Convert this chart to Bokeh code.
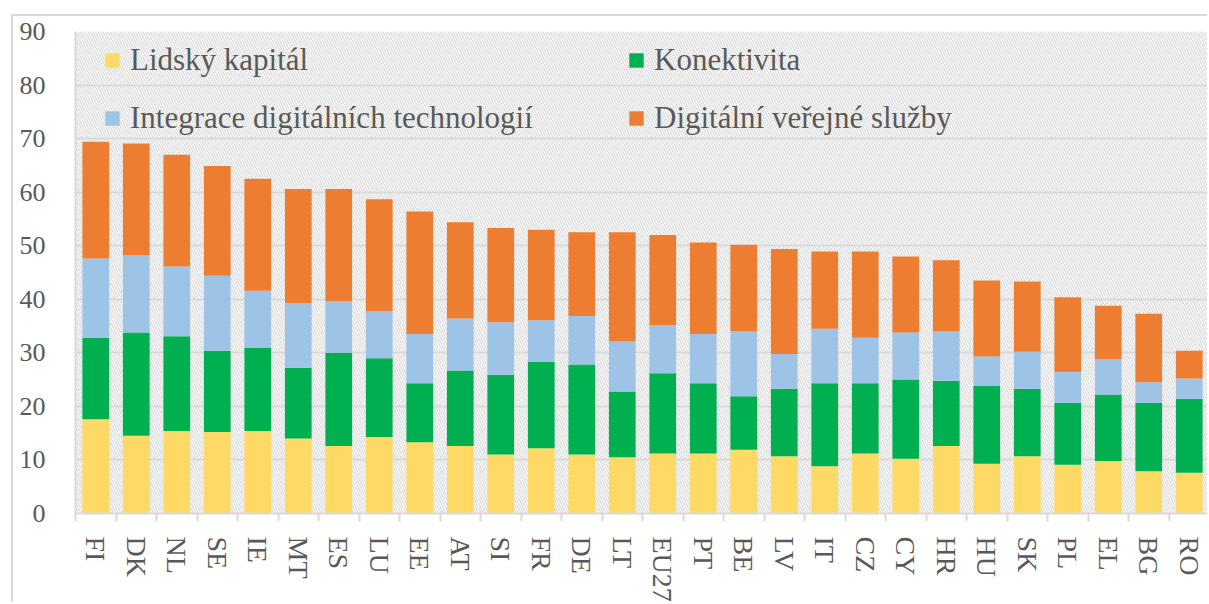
from bokeh.plotting import figure
from bokeh.models import (ColumnDataSource, Range1d, FixedTicker, BoxAnnotation,
                          Legend, LegendItem)
from bokeh.embed import file_html
from bokeh.resources import INLINE

countries = ["FI", "DK", "NL", "SE", "IE", "MT", "ES", "LU", "EE", "AT", "SI", "FR", "DE", "LT",
             "EU27", "PT", "BE", "LV", "IT", "CZ", "CY", "HR", "HU", "SK", "PL", "EL", "BG", "RO"]
lidsky_kapital = [17.6, 14.5, 15.4, 15.2, 15.4, 14.0, 12.6, 14.3, 13.3, 12.6, 11.0, 12.2, 11.0, 10.5,
                  11.2, 11.2, 11.9, 10.7, 8.8, 11.2, 10.2, 12.6, 9.3, 10.7, 9.1, 9.8, 7.9, 7.6]
konektivita = [15.2, 19.3, 17.7, 15.2, 15.5, 13.2, 17.4, 14.7, 11.0, 14.1, 14.9, 16.1, 16.8, 12.3,
               15.0, 13.1, 10.0, 12.6, 15.5, 13.1, 14.8, 12.2, 14.5, 12.6, 11.6, 12.4, 12.8, 13.8]
integrace = [14.8, 14.4, 13.0, 14.0, 10.7, 12.1, 9.7, 8.8, 9.2, 9.7, 9.8, 7.8, 9.1, 9.3,
             9.0, 9.2, 12.1, 6.5, 10.2, 8.5, 8.8, 9.2, 5.5, 6.9, 5.7, 6.6, 3.8, 3.8]
verejne_sluzby = [21.8, 20.9, 20.9, 20.5, 20.9, 21.3, 20.9, 20.9, 22.9, 18.0, 17.6, 16.9, 15.6, 20.4,
                  16.8, 17.1, 16.2, 19.6, 14.4, 16.1, 14.2, 13.3, 14.2, 13.1, 14.0, 10.0, 12.8, 5.2]
series_names = ["Lidský kapitál", "Konektivita", "Integrace digitálních technologií",
                "Digitální veřejné služby"]
series_colors = ["#FFD966", "#00B050", "#9DC3E6", "#ED7D31"]
y_ticks = [0, 10, 20, 30, 40, 50, 60, 70, 80, 90]

FONT = "Liberation Serif"
TXT = "#595959"
GRID = "#d9d9d9"

idx = list(range(len(countries)))
src = ColumnDataSource(dict(x=idx, s0=lidsky_kapital, s1=konektivita, s2=integrace, s3=verejne_sluzby))

p = figure(width=1196, height=588, output_backend="svg", toolbar_location=None,
           x_range=Range1d(-0.5, len(countries) - 0.5), y_range=Range1d(0, 90),
           min_border_left=62, min_border_right=0, min_border_top=15, min_border_bottom=88)
p.styles = {"margin-left": "11px", "margin-top": "14px",
            "border-left": "2px solid #d9d9d9", "border-top": "2px solid #d9d9d9"}
p.outline_line_color = None
p.background_fill_color = "white"
p.border_fill_color = "white"

hatch = BoxAnnotation(fill_alpha=0, line_color=None, hatch_pattern="\\", hatch_color="#d0d0d0",
                      hatch_scale=5, hatch_weight=1, level="image")
p.add_layout(hatch)

rs = p.vbar_stack(["s0", "s1", "s2", "s3"], x="x", width=0.66, source=src,
                  color=series_colors, line_color=None)

# axes
p.xgrid.grid_line_color = None
p.ygrid.grid_line_color = GRID
p.ygrid.grid_line_width = 2
p.ygrid.ticker = FixedTicker(ticks=y_ticks)

p.yaxis.ticker = FixedTicker(ticks=y_ticks)
p.yaxis.axis_line_color = GRID
p.yaxis.axis_line_width = 2
p.yaxis.major_tick_line_color = None
p.yaxis.major_tick_out = 0
p.yaxis.minor_tick_line_color = None
p.yaxis.major_label_text_font = FONT
p.yaxis.major_label_text_font_size = "26px"
p.yaxis.major_label_text_color = TXT
p.yaxis.major_label_standoff = 30

boundaries = [i - 0.5 for i in range(len(countries) + 1)]
p.xaxis.ticker = FixedTicker(ticks=idx, minor_ticks=boundaries)
p.xaxis.major_label_overrides = {i: c for i, c in enumerate(countries)}
p.xaxis.major_label_orientation = "vertical"
p.xaxis.axis_line_color = GRID
p.xaxis.axis_line_width = 2
p.xaxis.major_tick_line_color = None
p.xaxis.major_tick_out = 0
p.xaxis.major_tick_in = 0
p.xaxis.minor_tick_line_color = GRID
p.xaxis.minor_tick_line_width = 2
p.xaxis.minor_tick_out = 8
p.xaxis.minor_tick_in = 0
p.xaxis.major_label_text_font = FONT
p.xaxis.major_label_text_font_size = "28px"
p.xaxis.major_label_text_color = TXT
p.xaxis.major_label_standoff = 15

def make_legend(items, loc):
    lg = Legend(items=items, location=loc, orientation="vertical",
                label_text_font=FONT, label_text_font_size="31px", label_text_color=TXT,
                glyph_width=18, glyph_height=18, label_standoff=9, spacing=22,
                padding=0, margin=0, background_fill_alpha=0, border_line_color=None)
    return lg

lg1 = make_legend([LegendItem(label=series_names[0], renderers=[rs[0]]),
                   LegendItem(label=series_names[2], renderers=[rs[2]])], (28, 377))
lg2 = make_legend([LegendItem(label=series_names[1], renderers=[rs[1]]),
                   LegendItem(label=series_names[3], renderers=[rs[3]])], (552, 377))
p.add_layout(lg1)
p.add_layout(lg2)

open("out.html", "w").write(file_html(p, INLINE))
